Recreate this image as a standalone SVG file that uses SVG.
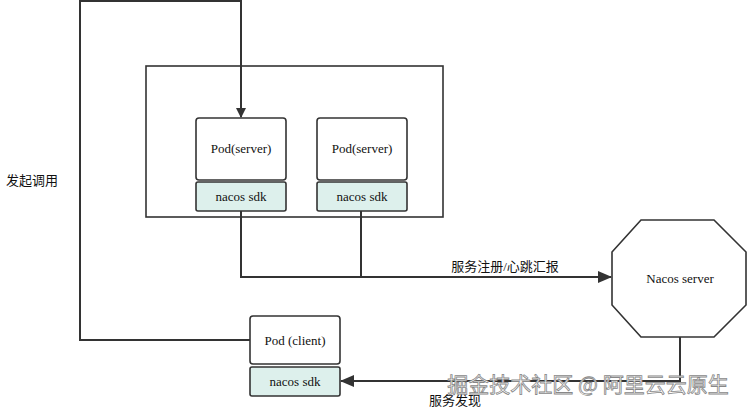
<svg xmlns="http://www.w3.org/2000/svg" width="747" height="412" viewBox="0 0 747 412">
<style>
.b{fill:#fff;stroke:#333;stroke-width:1.6}
.s{fill:#ddf0ec;stroke:#333;stroke-width:1.6}
.t{font-family:"Liberation Serif","Noto Sans CJK SC",serif;font-size:13px;fill:#111;text-anchor:middle}
.c{fill:none;stroke:#333;stroke-width:2}
</style>
<defs><marker id="a" markerWidth="10" markerHeight="10" refX="9" refY="5" orient="auto" markerUnits="userSpaceOnUse"><path d="M0,0L10,5L0,10z" fill="#333"/></marker>
<marker id="a2" markerWidth="14" markerHeight="12" refX="13" refY="6" orient="auto" markerUnits="userSpaceOnUse"><path d="M0,0L14,6L0,12z" fill="#333"/></marker></defs>
<rect width="747" height="412" fill="#fff"/>
<g id="cluster"><rect x="146" y="66" width="297" height="151" fill="none" stroke="#333" stroke-width="1.6"/></g>
<g id="pod1"><rect class="b" x="196" y="118" width="90" height="62" rx="3"/><text class="t" x="241" y="153">Pod(server)</text>
<rect class="s" x="196" y="182" width="90" height="29" rx="2"/><text class="t" x="241" y="201">nacos sdk</text></g>
<g id="pod2"><rect class="b" x="317" y="118" width="90" height="62" rx="3"/><text class="t" x="362" y="153">Pod(server)</text>
<rect class="s" x="317" y="182" width="90" height="29" rx="2"/><text class="t" x="362" y="201">nacos sdk</text></g>
<g id="client"><rect class="b" x="250" y="316" width="90" height="48" rx="3"/><text class="t" x="295" y="345">Pod (client)</text>
<rect class="s" x="250" y="367" width="90" height="29" rx="2"/><text class="t" x="295" y="386">nacos sdk</text></g>
<g id="nacos"><polygon class="b" points="641,220 714,220 746,252 746,305 714,337 641,337 612,305 612,252"/><text class="t" x="680" y="283">Nacos server</text></g>
<g id="connectors">
<path class="c" d="M241,211V277H611" marker-end="url(#a2)"/>
<path class="c" d="M361,211V277"/>
<path class="c" d="M680,337V381H341" marker-end="url(#a2)"/>
<path class="c" d="M250,340H80V1H241V117" marker-end="url(#a)"/>
<text class="t" x="505" y="271">服务注册/心跳汇报</text>
<text class="t" x="455" y="405">服务发现</text>
<text class="t" x="32" y="185">发起调用</text>
</g>
<text x="588" y="392" font-family="Noto Sans CJK SC,sans-serif" font-size="21" fill="#fff" stroke="#888" stroke-width="0.8" text-anchor="middle">掘金技术社区 @ 阿里云云原生</text>
</svg>
